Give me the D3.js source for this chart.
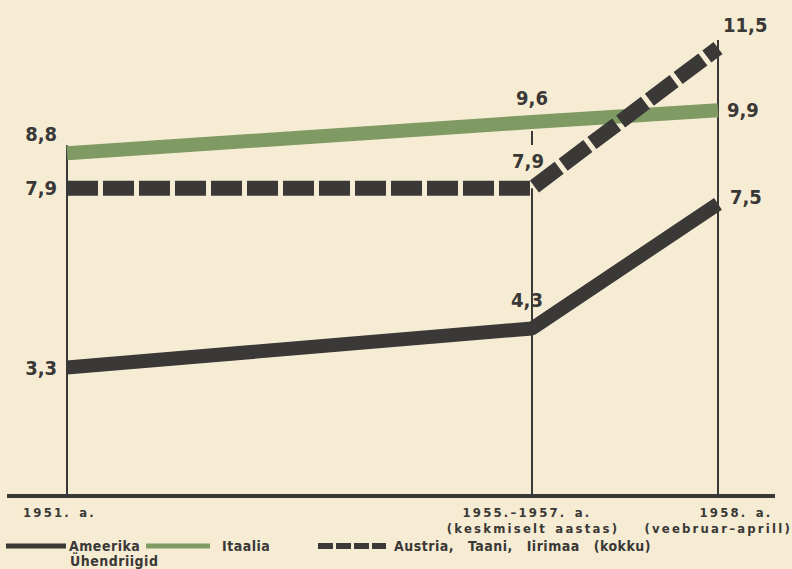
<!DOCTYPE html>
<html>
<head>
<meta charset="utf-8">
<script src="https://cdn.jsdelivr.net/npm/d3@7"></script>
<style>
  body { margin: 0; background: #f6ecd4; }
  svg { display: block; }
  text { font-family: "DejaVu Sans Condensed", "DejaVu Sans", sans-serif; font-weight: bold; fill: #3a3836; }
</style>
</head>
<body>
<script>
// data
var periods = ["1951. a.", "1955.–1957. a.", "1958. a."];
var periodNotes = ["", "(keskmiselt aastas)", "(veebruar–aprill)"];
var periodYears = [1951, 1956, 1958];
var usa = [3.3, 4.3, 7.5];
var italy = [8.8, 9.6, 9.9];
var others = [7.9, 7.9, 11.5];
var seriesNames = ["Ameerika|Ühendriigid", "Itaalia", "Austria, Taani, Iirimaa (kokku)"];

var w = 792, h = 569;
var dark = "#3b3937", green = "#7f9b63";

var svg = d3.select("body").append("svg")
    .attr("width", w)
    .attr("height", h);

svg.append("rect").attr("width", w).attr("height", h).attr("fill", "#f6ecd4");

var x = d3.scaleLinear().domain([1951, 1958]).range([67, 718]);
var y = d3.scaleLinear().domain([0, 11.5]).range([496, 48]);

var fmt = function(v) { return d3.format(".1f")(v).replace(".", ","); };

// vertical guide lines
var guides = svg.append("g").attr("stroke", dark).attr("stroke-width", 2);
guides.append("line")
    .attr("x1", x(periodYears[0])).attr("x2", x(periodYears[0]))
    .attr("y1", y(0)).attr("y2", y(italy[0]) - 8);
guides.append("line")
    .attr("x1", x(periodYears[1])).attr("x2", x(periodYears[1]))
    .attr("y1", y(0)).attr("y2", y(others[1]));
guides.append("line")
    .attr("x1", x(periodYears[1])).attr("x2", x(periodYears[1]))
    .attr("y1", y(italy[1]) + 9).attr("y2", y(italy[1]) + 23);
guides.append("line")
    .attr("x1", x(periodYears[2])).attr("x2", x(periodYears[2]))
    .attr("y1", y(0)).attr("y2", y(others[2]) - 8);

var line = d3.line()
    .x(function(d, i) { return x(periodYears[i]); })
    .y(function(d) { return y(d); });

svg.append("path").datum(italy)
    .attr("d", line)
    .attr("fill", "none")
    .attr("stroke", green)
    .attr("stroke-width", 14);

svg.append("path").datum(usa)
    .attr("d", line)
    .attr("fill", "none")
    .attr("stroke", dark)
    .attr("stroke-width", 14)
    .attr("stroke-linejoin", "bevel");

svg.append("path").datum(others)
    .attr("d", line)
    .attr("fill", "none")
    .attr("stroke", dark)
    .attr("stroke-width", 15)
    .attr("stroke-dasharray", "31,5")
    .attr("stroke-linejoin", "bevel");

// baseline
svg.append("line")
    .attr("x1", 7).attr("x2", 775)
    .attr("y1", y(0)).attr("y2", y(0))
    .attr("stroke", dark)
    .attr("stroke-width", 4);

// value label placement: one row per series, [dx, dy, anchor] per period
var allSeries = [italy, others, usa];
var labelPlace = [
  [[-10, -12, "end"], [0, -17, "middle"], [9, 7, "start"]],
  [[-10, 7, "end"], [-4, -20, "middle"], [5, -16, "start"]],
  [[-10, 8, "end"], [-5, -21, "middle"], [12, 0, "start"]]
];

allSeries.forEach(function(s, k) {
  svg.append("g").selectAll("text")
    .data(s)
    .enter()
    .append("text")
    .attr("x", function(d, i) { return x(periodYears[i]) + labelPlace[k][i][0]; })
    .attr("y", function(d, i) { return y(d) + labelPlace[k][i][1]; })
    .attr("text-anchor", function(d, i) { return labelPlace[k][i][2]; })
    .style("font-size", "20px")
    .text(fmt);
});

// x labels
var xl = svg.append("g").style("font-size", "13px")
    .style("letter-spacing", "2.2px").style("word-spacing", "2px");
xl.append("text").attr("x", 23).attr("y", 517).text(periods[0]);
xl.append("text").attr("x", 527).attr("y", 517).attr("text-anchor", "middle").text(periods[1]);
xl.append("text").attr("x", 533).attr("y", 533).attr("text-anchor", "middle").text(periodNotes[1]);
xl.append("text").attr("x", 736).attr("y", 517).attr("text-anchor", "middle").text(periods[2]);
xl.append("text").attr("x", 792).attr("y", 533).attr("text-anchor", "end").text(periodNotes[2]);

// legend
var leg = svg.append("g").style("font-size", "14px")
    .style("letter-spacing", "0.5px").style("word-spacing", "9px");
leg.append("line").attr("x1", 6).attr("x2", 66).attr("y1", 546).attr("y2", 546)
    .attr("stroke", dark).attr("stroke-width", 5);
leg.append("text").attr("x", 69).attr("y", 551).text(seriesNames[0].split("|")[0]);
leg.append("text").attr("x", 70).attr("y", 566).text(seriesNames[0].split("|")[1]);
leg.append("line").attr("x1", 146).attr("x2", 210).attr("y1", 546).attr("y2", 546)
    .attr("stroke", green).attr("stroke-width", 5);
leg.append("text").attr("x", 222).attr("y", 551).text(seriesNames[1]);
leg.append("line").attr("x1", 318).attr("x2", 386).attr("y1", 546).attr("y2", 546)
    .attr("stroke", dark).attr("stroke-width", 6).attr("stroke-dasharray", "15,3");
leg.append("text").attr("x", 394).attr("y", 551).text(seriesNames[2]);
</script>
</body>
</html>
